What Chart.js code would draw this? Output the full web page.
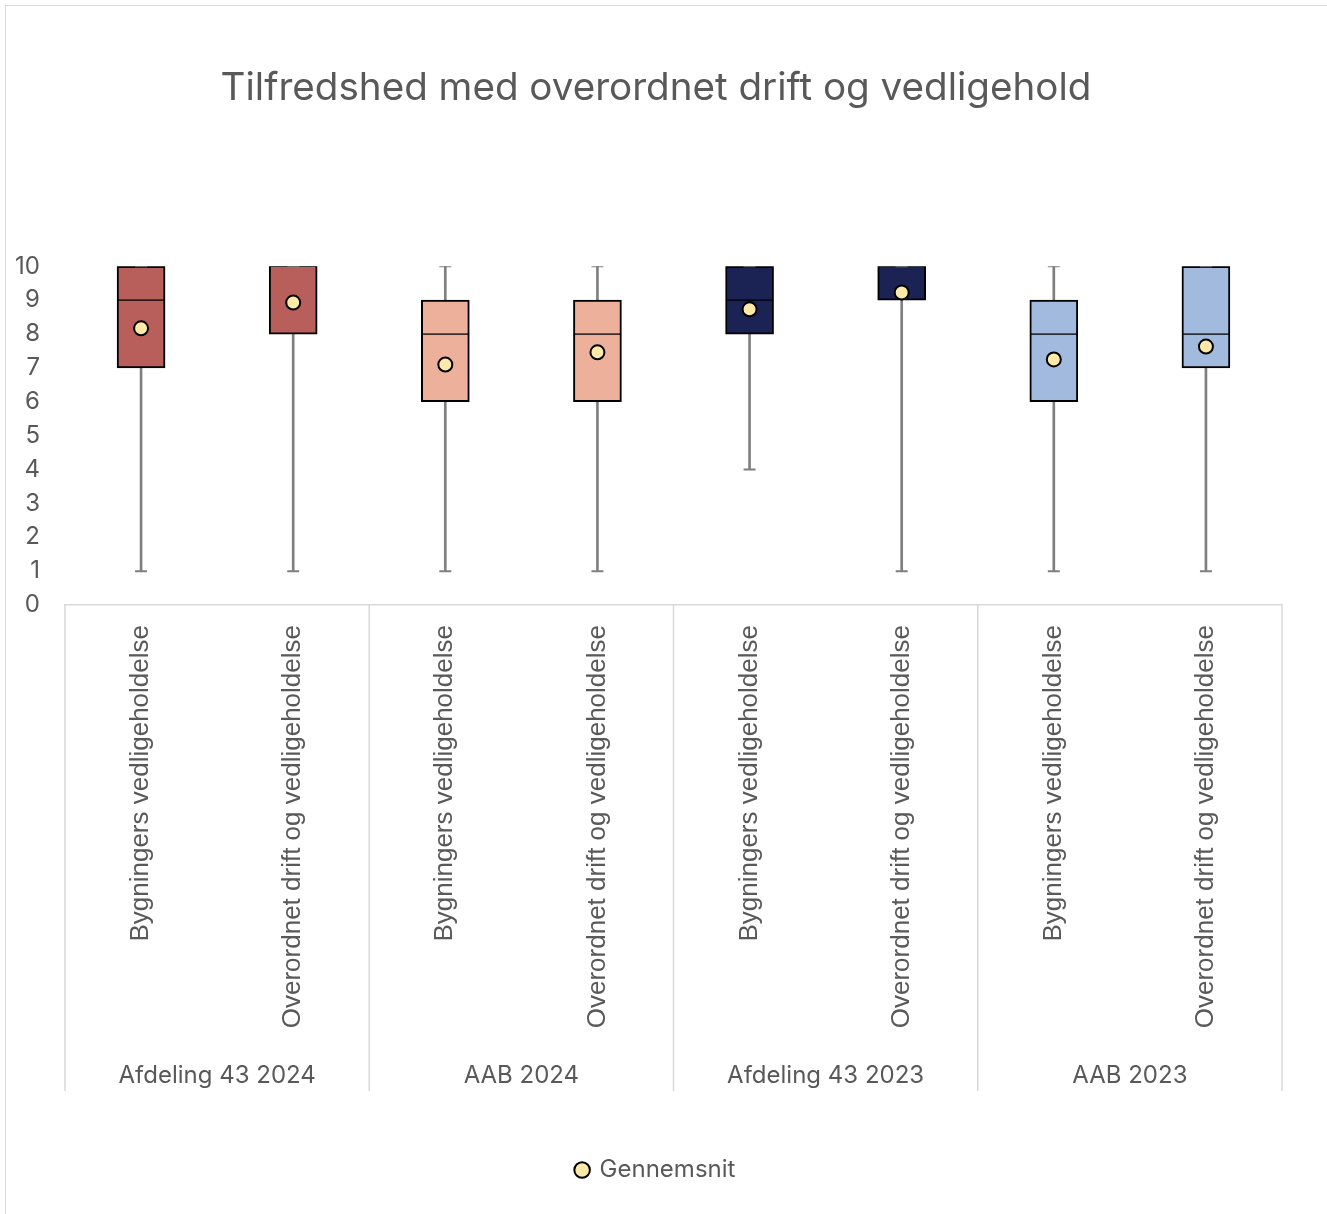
<!DOCTYPE html>
<html>
<head>
<meta charset="utf-8">
<script src="https://cdn.jsdelivr.net/npm/chart.js@4.4.1/dist/chart.umd.min.js"></script>
<style>
  html, body { margin: 0; padding: 0; background: #fff; overflow: hidden; }
  #wrap { position: absolute; left: 0; top: 0; width: 1327px; height: 1214px; }
  #frame { position: absolute; left: 5px; top: 5px; width: 1340px; height: 1220px; border: 1px solid #D9D9D9; box-sizing: border-box; pointer-events: none; }
</style>
</head>
<body>
<div id="wrap"><canvas id="c" width="1327" height="1214"></canvas></div>
<div id="frame"></div>
<script>
const categories = [
  'Bygningers vedligeholdelse', 'Overordnet drift og vedligeholdelse',
  'Bygningers vedligeholdelse', 'Overordnet drift og vedligeholdelse',
  'Bygningers vedligeholdelse', 'Overordnet drift og vedligeholdelse',
  'Bygningers vedligeholdelse', 'Overordnet drift og vedligeholdelse'
];
const groups = ['Afdeling 43 2024', 'AAB 2024', 'Afdeling 43 2023', 'AAB 2023'];
const minVals    = [1, 1, 1, 1, 4, 1, 1, 1];
const q1Vals     = [7, 8, 6, 6, 8, 9, 6, 7];
const medianVals = [9, 10, 8, 8, 9, 10, 8, 8];
const q3Vals     = [10, 10, 9, 9, 10, 10, 9, 10];
const maxVals    = [10, 10, 10, 10, 10, 10, 10, 10];
const meanVals   = [8.17, 8.93, 7.10, 7.46, 8.73, 9.23, 7.25, 7.63];
const boxColors  = ['#B85F5C', '#B85F5C', '#EDB09B', '#EDB09B', '#1B2354', '#1B2354', '#A1BADD', '#A1BADD'];
const yTicks     = [0, 1, 2, 3, 4, 5, 6, 7, 8, 9, 10];
const legendLabel = 'Gennemsnit';

const grey = '#595959';

const separators = {
  id: 'separators',
  afterDraw(chart) {
    const x = chart.scales.x, x2 = chart.scales.x2;
    const ctx = chart.ctx;
    const n = categories.length;
    const endY = x2.top + 53;
    ctx.save();
    ctx.strokeStyle = '#D9D9D9';
    ctx.lineWidth = 1.5;
    for (let k = 0; k <= n; k += 2) {
      let px;
      if (k === 0) px = x.left;
      else if (k === n) px = x.right;
      else px = (x.getPixelForValue(k - 1) + x.getPixelForValue(k)) / 2;
      ctx.beginPath();
      ctx.moveTo(px, chart.chartArea.bottom);
      ctx.lineTo(px, endY);
      ctx.stroke();
    }
    ctx.restore();
  }
};

const rangeOf = (a, b) => a.map((v, i) => [v, b[i]]);

new Chart(document.getElementById('c'), {
  type: 'bar',
  data: {
    labels: categories,
    datasets: [
      {
        label: 'whisker',
        data: rangeOf(minVals, maxVals),
        backgroundColor: '#7F7F7F',
        barThickness: 2,
        grouped: false,
        order: 5
      },
      {
        label: 'lower',
        data: rangeOf(q1Vals, medianVals),
        backgroundColor: boxColors,
        borderColor: '#000',
        borderWidth: { top: 1, bottom: 2, left: 2, right: 2 },
        borderSkipped: false,
        barThickness: 48,
        grouped: false,
        order: 3
      },
      {
        label: 'upper',
        data: rangeOf(medianVals, q3Vals),
        backgroundColor: boxColors,
        borderColor: '#000',
        borderWidth: { top: 2, bottom: 1, left: 2, right: 2 },
        borderSkipped: false,
        barThickness: 48,
        grouped: false,
        order: 3
      },
      {
        type: 'line',
        label: 'capMin',
        data: minVals,
        showLine: false,
        pointStyle: 'line',
        pointRadius: 6,
        pointBorderColor: '#7F7F7F',
        pointBorderWidth: 2,
        order: 1
      },
      {
        type: 'line',
        label: 'capMax',
        data: maxVals,
        showLine: false,
        pointStyle: 'line',
        pointRadius: 6,
        pointBorderColor: '#7F7F7F',
        pointBorderWidth: 2,
        order: 1
      },
      {
        type: 'line',
        label: legendLabel,
        data: meanVals,
        showLine: false,
        pointStyle: 'circle',
        pointRadius: 7,
        pointBackgroundColor: '#FFE9A8',
        backgroundColor: '#FFE9A8',
        pointBorderColor: '#000',
        borderColor: '#000',
        pointBorderWidth: 2,
        borderWidth: 2,
        order: 0
      }
    ]
  },
  options: {
    responsive: false,
    animation: false,
    devicePixelRatio: 1,
    layout: { padding: { left: 12, right: 27, top: 0, bottom: 22 } },
    plugins: {
      title: {
        display: true,
        text: 'Tilfredshed med overordnet drift og vedligehold',
        color: grey,
        font: { family: 'Inter', size: 38.6, weight: 'normal' },
        padding: { top: 65, bottom: 155 }
      },
      legend: {
        display: true,
        position: 'bottom',
        labels: {
          filter: (item) => item.text === legendLabel,
          usePointStyle: true,
          boxWidth: 11,
          boxHeight: 11,
          color: grey,
          font: { family: 'Inter', size: 24 },
          padding: 10
        }
      },
      tooltip: { enabled: false }
    },
    scales: {
      x: {
        type: 'category',
        offset: true,
        grid: { display: false },
        border: { display: true, color: '#D9D9D9', width: 1.5 },
        afterFit: (axis) => { axis.height = 433; },
        ticks: {
          color: grey,
          font: { family: 'Liberation Sans', size: 26 },
          minRotation: 90,
          maxRotation: 90,
          autoSkip: false,
          padding: 12
        }
      },
      x2: {
        type: 'category',
        labels: groups,
        position: 'bottom',
        offset: true,
        grid: { display: false },
        border: { display: false },
        afterFit: (axis) => { axis.height = 110; },
        ticks: {
          color: grey,
          font: { family: 'Inter', size: 24 },
          padding: 15
        }
      },
      y: {
        min: 0,
        max: 10,
        afterBuildTicks: (axis) => { axis.ticks = yTicks.map(v => ({ value: v })); },
        afterFit: (axis) => { axis.width = 53; },
        grid: { display: false, drawTicks: false, tickLength: 0 },
        border: { display: false },
        ticks: {
          color: grey,
          font: { family: 'Inter', size: 24 },
          padding: 25
        }
      },
      y2: {
        position: 'right',
        min: 0,
        max: 10,
        afterFit: (axis) => { axis.width = 18; },
        grid: { display: false, drawTicks: false },
        border: { display: false },
        ticks: { display: false }
      }
    }
  },
  plugins: [separators]
});
</script>
</body>
</html>
